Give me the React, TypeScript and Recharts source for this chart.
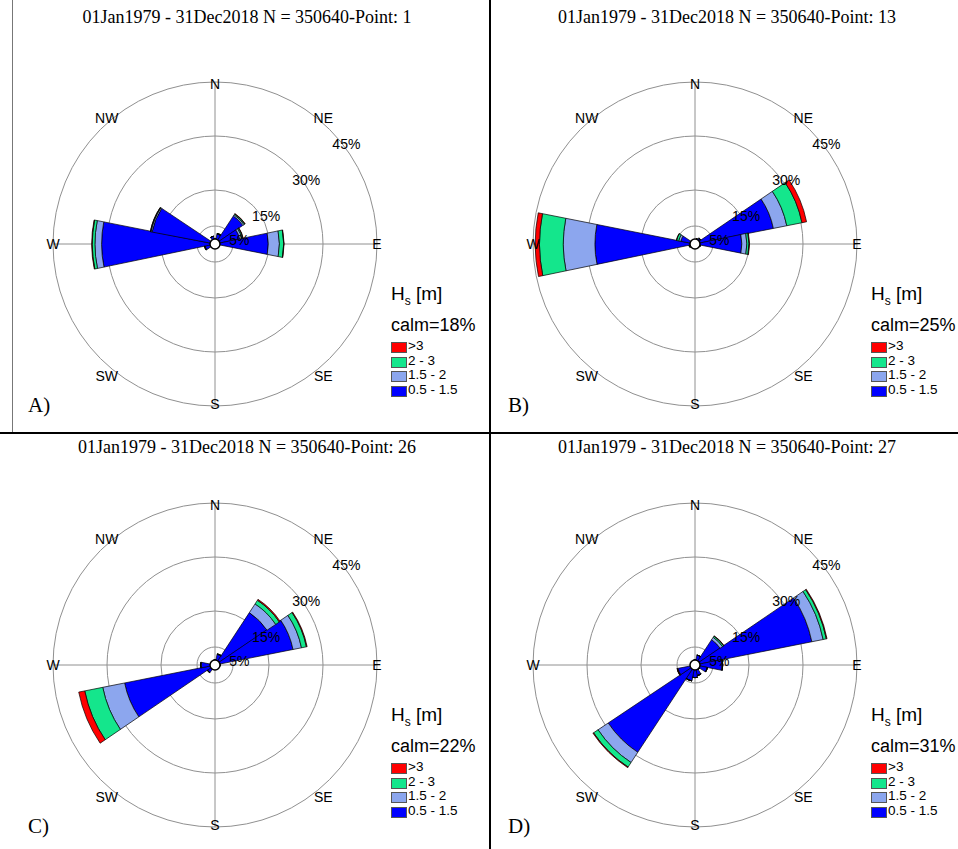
import React from 'react';
import { RadialBarChart, RadialBar, PolarAngleAxis, PolarRadiusAxis, PolarGrid } from 'recharts';

const directions = ['N', 'NNE', 'NE', 'ENE', 'E', 'ESE', 'SE', 'SSE', 'S', 'SSW', 'SW', 'WSW', 'W', 'WNW', 'NW', 'NNW'];
const compassNames = ['N', 'NE', 'E', 'SE', 'S', 'SW', 'W', 'NW'];
const radiusTicks = [5, 15, 30, 45];
const binKeys = ['low', 'mid', 'high', 'top'];
const binLabels = ['0.5 - 1.5', '1.5 - 2', '2 - 3', '>3'];
const binColors = ['#0000FF', '#8CA6EE', '#14E68C', '#FF0000'];
const pointIds = [1, 13, 26, 27];
const calmValues = [18, 25, 22, 31];
const panelTags = ['A)', 'B)', 'C)', 'D)'];

// Point 1
const p1Low = [1.5, 2.8, 9.3, 7.0, 14.8, 1.0, 0.8, 0.6, 0.6, 0.6, 1.0, 2.8, 31.5, 17.8, 1.2, 2.2];
const p1Mid = [0, 0.1, 0.4, 0.6, 3.1, 0, 0, 0, 0, 0, 0, 0.1, 1.85, 0.3, 0, 0];
const p1High = [0, 0.1, 0.3, 0.3, 1.2, 0, 0, 0, 0, 0, 0, 0.1, 0.75, 0.15, 0, 0];
const p1Top = [0, 0, 0.1, 0.1, 0.1, 0, 0, 0, 0, 0, 0, 0, 0.15, 0.05, 0, 0];

// Point 13
const p13Low = [1.0, 1.5, 1.8, 22.2, 13.0, 1.5, 1.0, 0.8, 0.8, 0.8, 1.0, 1.5, 27.8, 4.0, 1.2, 1.0];
const p13Mid = [0, 0, 0.1, 3.8, 1.4, 0, 0, 0, 0, 0, 0, 0.1, 8.8, 0.6, 0, 0];
const p13High = [0, 0, 0.1, 4.3, 0.6, 0, 0, 0, 0, 0, 0, 0.1, 6.6, 0.6, 0, 0];
const p13Top = [0, 0, 0, 1.3, 0.15, 0, 0, 0, 0, 0, 0, 0, 1.2, 0.1, 0, 0];

// Point 26
const p26Low = [1.5, 3.0, 17.4, 22.1, 1.5, 1.0, 0.8, 0.8, 0.8, 1.0, 2.5, 25.6, 3.8, 1.0, 0.8, 0.8];
const p26Mid = [0, 0.1, 2.9, 2.4, 0, 0, 0, 0, 0, 0, 0.1, 6.2, 0.2, 0, 0, 0];
const p26High = [0, 0.05, 1.2, 1.4, 0, 0, 0, 0, 0, 0, 0, 5.1, 0, 0, 0, 0];
const p26Top = [0, 0, 0.3, 0.2, 0, 0, 0, 0, 0, 0, 0, 1.7, 0, 0, 0, 0];

// Point 27
const p27Low = [1.5, 2.8, 8.4, 33.1, 7.5, 3.5, 1.5, 3.0, 3.5, 4.5, 29.0, 4.8, 1.2, 1.0, 0.8, 0.8];
const p27Mid = [0, 0, 0.8, 3.2, 0.2, 0, 0, 0, 0, 0, 3.4, 0.2, 0, 0, 0, 0];
const p27High = [0, 0, 0.4, 0.9, 0, 0, 0, 0, 0, 0, 1.5, 0, 0, 0, 0, 0];
const p27Top = [0, 0, 0.1, 0.2, 0, 0, 0, 0, 0, 0, 0.2, 0.1, 0, 0, 0, 0];

const buildData = (low: number[], mid: number[], high: number[], top: number[]) =>
  directions.map((dir, i) => ({ dir, low: low[i], mid: mid[i], high: high[i], top: top[i] }));

const panelData = [
  buildData(p1Low, p1Mid, p1High, p1Top),
  buildData(p13Low, p13Mid, p13High, p13Top),
  buildData(p26Low, p26Mid, p26High, p26Top),
  buildData(p27Low, p27Mid, p27High, p27Top),
];

const offsets = [
  { left: 0, top: 0 },
  { left: 480, top: 0 },
  { left: 0, top: 421 },
  { left: 480, top: 421 },
];
const titleTops = [17, 17, 26, 26];

const CW = 478;
const CH = 428;
const CX = 215;
const CY = 244;
const R = 162;

const sans = '"Liberation Sans", Arial, sans-serif';
const serif = '"Liberation Serif", "Times New Roman", serif';

const DirTick = (props: any) => {
  const { payload } = props;
  const name = payload && payload.value;
  if (!compassNames.includes(name)) return <g />;
  const idx = directions.indexOf(name);
  const a = (idx * 22.5 * Math.PI) / 180;
  const diag = idx % 4 === 2;
  const sx = diag ? 0.945 : 1.0;
  const sy = diag ? (Math.cos(a) > 0 ? 1.1 : 1.15) : 0.99;
  const x = CX + R * Math.sin(a) * sx;
  const y = CY - R * Math.cos(a) * sy;
  return (
    <text x={x} y={y} textAnchor="middle" dominantBaseline="central" fontFamily={sans} fontSize={14} fill="#000">
      {name}
    </text>
  );
};

const PctTick = (props: any) => {
  const { x, y, payload } = props;
  return (
    <text x={x + 11} y={y + 8} textAnchor="middle" dominantBaseline="central" fontFamily={sans} fontSize={14} fill="#000">
      {`${payload.value}%`}
    </text>
  );
};

const Rose = ({ i }: { i: number }) => {
  const off = offsets[i];
  return (
    <div style={{ position: 'absolute', left: off.left, top: off.top, width: CW, height: CH }}>
      <div
        style={{
          position: 'absolute',
          left: 0,
          width: 494,
          top: titleTops[i] - 11,
          textAlign: 'center',
          fontFamily: serif,
          fontSize: 18,
          lineHeight: '22px',
          whiteSpace: 'nowrap',
          color: '#000',
        }}
      >
        {`01Jan1979 - 31Dec2018 N = 350640-Point: ${pointIds[i]}`}
      </div>
      <div style={{ position: 'absolute', left: 0, top: 0 }}>
        <RadialBarChart
          width={CW}
          height={CH}
          data={panelData[i]}
          cx={CX}
          cy={CY}
          innerRadius={0}
          outerRadius={R}
          startAngle={78.75}
          endAngle={-281.25}
          layout="centric"
          barCategoryGap={0}
          barGap={0}
          margin={{ top: 0, right: 0, bottom: 0, left: 0 }}
        >
          <PolarGrid gridType="circle" polarAngles={[0, 90, 180, 270]} stroke="#909090" strokeWidth={1} />
          <PolarAngleAxis type="category" dataKey="dir" tick={<DirTick />} tickLine={false} axisLine={false} />
          <PolarRadiusAxis
            type="number"
            domain={[0, 45]}
            ticks={radiusTicks}
            angle={42}
            tick={<PctTick />}
            axisLine={false}
            tickLine={false}
          />
          {binKeys.map((k, j) => (
            <RadialBar
              key={k}
              dataKey={k}
              stackId="s"
              fill={binColors[j]}
              stroke="#000"
              strokeWidth={0.7}
              isAnimationActive={false}
            />
          ))}
        </RadialBarChart>
      </div>
      <svg style={{ position: 'absolute', left: 0, top: 0, pointerEvents: 'none' }} width={CW} height={CH}>
        <circle cx={CX} cy={CY} r={5} fill="#fff" stroke="#000" strokeWidth={1.5} />
      </svg>
      <div style={{ position: 'absolute', left: 391, top: 283, fontFamily: sans, color: '#000' }}>
        <div style={{ position: 'absolute', left: 0, top: 0, fontSize: 19, lineHeight: '22px', whiteSpace: 'nowrap' }}>
          H<sub style={{ fontSize: 12, verticalAlign: 'sub' }}>s</sub> [m]
        </div>
        <div style={{ position: 'absolute', left: 0, top: 31, fontSize: 18, lineHeight: '22px', whiteSpace: 'nowrap' }}>
          {`calm=${calmValues[i]}%`}
        </div>
        {[3, 2, 1, 0].map((b, r) => (
          <div key={b} style={{ position: 'absolute', left: 0, top: 56 + r * 14.5, height: 14.5, whiteSpace: 'nowrap' }}>
            <div
              style={{
                position: 'absolute',
                left: 0,
                top: 3,
                width: 14,
                height: 9,
                background: binColors[b],
                border: '0.5px solid #555',
              }}
            />
            <div style={{ position: 'absolute', left: 17, top: 0, fontSize: 13.5, lineHeight: '14.5px' }}>{binLabels[b]}</div>
          </div>
        ))}
      </div>
      <div
        style={{
          position: 'absolute',
          left: 28,
          top: 393,
          fontFamily: serif,
          fontSize: 21,
          lineHeight: '24px',
          color: '#000',
        }}
      >
        {panelTags[i]}
      </div>
    </div>
  );
};

export default function App() {
  return (
    <div style={{ position: 'absolute', left: 0, top: 0, width: 958, height: 849, background: '#fff', overflow: 'hidden' }}>
      {[0, 1, 2, 3].map((i) => (
        <Rose key={i} i={i} />
      ))}
      <div style={{ position: 'absolute', left: 12, top: 0, width: 1, height: 432, background: '#777' }} />
      <div style={{ position: 'absolute', left: 489, top: 0, width: 2, height: 849, background: '#000' }} />
      <div style={{ position: 'absolute', left: 0, top: 432, width: 958, height: 2, background: '#000' }} />
    </div>
  );
}
